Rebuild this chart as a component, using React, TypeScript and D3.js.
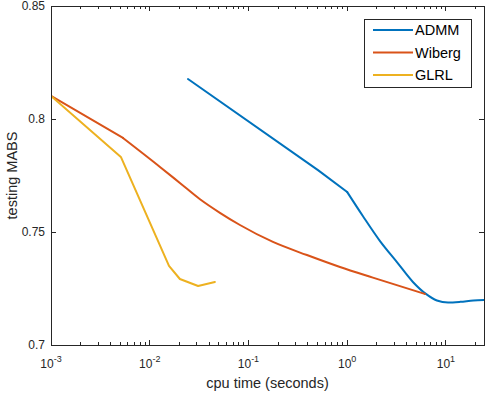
import * as d3 from "d3";

const W = 486;
const H = 394;
const MARGIN = { top: 6, right: 2, bottom: 49, left: 51 };
const COLORS = ["#0072BD", "#D95319", "#EDB120"];

const seriesNames = ["ADMM", "Wiberg", "GLRL"];

const admmTime = [0.0244, 0.506, 1.0, 1.44, 2.15, 3.19, 4.63, 6.27, 8.1, 10.5, 14, 19, 24.3];
const admmVal = [0.8177, 0.7774, 0.7677, 0.7571, 0.746, 0.7367, 0.7279, 0.7226, 0.7197, 0.7188, 0.7191, 0.7197, 0.7199];

const wibergTime = [0.001, 0.00536, 0.0127, 0.0202, 0.0323, 0.0514, 0.082, 0.177, 0.391, 0.845, 1.82, 6.12];
const wibergVal = [0.8102, 0.7916, 0.7788, 0.7717, 0.7645, 0.7585, 0.7531, 0.7456, 0.7398, 0.7345, 0.7298, 0.7226];

const glrlTime = [0.001, 0.0051, 0.01567, 0.0202, 0.0309, 0.0457];
const glrlVal = [0.8102, 0.7832, 0.735, 0.7292, 0.7261, 0.7279];

// index where each curve stops being a straight segment and turns smooth
const smoothFrom = [2, 1, 99];

const xTicks = [0.001, 0.01, 0.1, 1, 10];
const xTickExp = ["-3", "-2", "-1", "0", "1"];
const yTicks = [0.7, 0.75, 0.8, 0.85];
const yTickLabels = ["0.7", "0.75", "0.8", "0.85"];

const FONT = "'Liberation Sans', Arial, Helvetica, sans-serif";

export default function App() {
  const x0 = MARGIN.left;
  const x1 = W - MARGIN.right;
  const y0 = H - MARGIN.bottom;
  const y1 = MARGIN.top;

  const xScale = d3.scaleLog().domain([0.001, 24.3]).range([x0, x1]);
  const yScale = d3.scaleLinear().domain([0.7, 0.85]).range([y0, y1]);

  const line = d3
    .line<[number, number]>()
    .x((d) => xScale(d[0]))
    .y((d) => yScale(d[1]));
  const smooth = d3
    .line<[number, number]>()
    .x((d) => xScale(d[0]))
    .y((d) => yScale(d[1]))
    .curve(d3.curveMonotoneX);

  const series = [
    admmTime.map((t, i) => [t, admmVal[i]] as [number, number]),
    wibergTime.map((t, i) => [t, wibergVal[i]] as [number, number]),
    glrlTime.map((t, i) => [t, glrlVal[i]] as [number, number]),
  ];

  // minor ticks 2..9 per decade inside the domain
  const minor: number[] = [];
  for (let e = -3; e <= 1; e++) {
    for (let m = 2; m <= 9; m++) {
      const v = m * Math.pow(10, e);
      if (v < 24.3) minor.push(v);
    }
  }

  const TL = 5;
  const legX = 364;
  const legY = 19;

  return (
    <svg width={W} height={H} style={{ display: "block", position: "absolute", left: 0, top: 0 }}>
      <rect x={0} y={0} width={W} height={H} fill="#fff" />
      <defs>
        <clipPath id="clip">
          <rect x={x0} y={y1} width={x1 - x0} height={y0 - y1} />
        </clipPath>
      </defs>
      <g clipPath="url(#clip)">
        {series.map((s, i) => {
          const k = Math.min(smoothFrom[i], s.length - 1);
          const head = s.slice(0, k + 1);
          const tail = s.slice(k);
          return (
            <g key={seriesNames[i]}>
              <path d={line(head) || ""} fill="none" stroke={COLORS[i]} strokeWidth={2} strokeLinejoin="round" strokeLinecap="round" />
              {tail.length > 1 && (
                <path d={smooth(tail) || ""} fill="none" stroke={COLORS[i]} strokeWidth={2} strokeLinejoin="round" strokeLinecap="round" />
              )}
            </g>
          );
        })}
      </g>

      {/* axes box */}
      <rect x={x0} y={y1} width={x1 - x0} height={y0 - y1} fill="none" stroke="#262626" strokeWidth={1} shapeRendering="crispEdges" />

      {/* x ticks */}
      {xTicks.map((t) => (
        <g key={t}>
          <line x1={xScale(t)} x2={xScale(t)} y1={y0} y2={y0 - TL} stroke="#262626" shapeRendering="crispEdges" />
          <line x1={xScale(t)} x2={xScale(t)} y1={y1} y2={y1 + TL} stroke="#262626" shapeRendering="crispEdges" />
        </g>
      ))}
      {minor.map((t) => (
        <g key={"m" + t}>
          <line x1={xScale(t)} x2={xScale(t)} y1={y0} y2={y0 - 3} stroke="#262626" shapeRendering="crispEdges" />
          <line x1={xScale(t)} x2={xScale(t)} y1={y1} y2={y1 + 3} stroke="#262626" shapeRendering="crispEdges" />
        </g>
      ))}
      {xTicks.map((t, i) => (
        <text key={"xl" + t} x={xScale(t)} y={y0 + 23} textAnchor="middle" fontFamily={FONT} fontSize={12} fill="#262626">
          10
          <tspan dy={-6} fontSize={9}>{xTickExp[i]}</tspan>
        </text>
      ))}

      {/* y ticks */}
      {yTicks.map((t, i) => (
        <g key={"y" + t}>
          <line x1={x0} x2={x0 + TL} y1={yScale(t)} y2={yScale(t)} stroke="#262626" shapeRendering="crispEdges" />
          <line x1={x1} x2={x1 - TL} y1={yScale(t)} y2={yScale(t)} stroke="#262626" shapeRendering="crispEdges" />
          <text x={x0 - 6} y={yScale(t) + 4} textAnchor="end" fontFamily={FONT} fontSize={12} fill="#262626">
            {yTickLabels[i]}
          </text>
        </g>
      ))}

      {/* axis labels */}
      <text x={(x0 + x1) / 2} y={388} textAnchor="middle" fontFamily={FONT} fontSize={14.5} fill="#262626">
        cpu time (seconds)
      </text>
      <text
        transform={`translate(17,${(y0 + y1) / 2}) rotate(-90)`}
        textAnchor="middle"
        fontFamily={FONT}
        fontSize={14.5}
        fill="#262626"
      >
        testing MABS
      </text>

      {/* legend */}
      <rect x={legX} y={legY} width={107} height={68} fill="#fff" stroke="#262626" strokeWidth={1} shapeRendering="crispEdges" />
      {seriesNames.map((n, i) => (
        <g key={"leg" + n}>
          <line x1={legX + 9} x2={legX + 49} y1={legY + 11 + i * 22.5} y2={legY + 11 + i * 22.5} stroke={COLORS[i]} strokeWidth={2} />
          <text x={legX + 51} y={legY + 16 + i * 22.5} fontFamily={FONT} fontSize={14.5} fill="#000">
            {n}
          </text>
        </g>
      ))}
    </svg>
  );
}
